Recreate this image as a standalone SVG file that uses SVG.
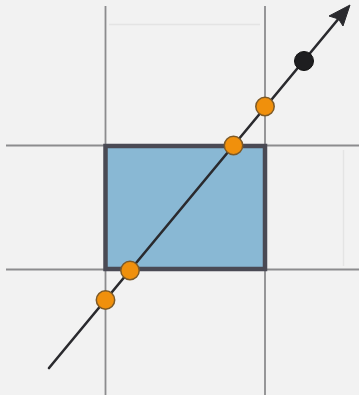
<svg xmlns="http://www.w3.org/2000/svg" width="359" height="395" viewBox="0 0 359 395">
<style>
.grid{stroke:#8c8c8e;stroke-width:1.8;fill:none}
.faint{stroke:#e4e4e4;stroke-width:1.5;fill:none}
.pt{fill:#f0900c;stroke:#7d5a28;stroke-width:1.5}
.ray{stroke:#2a2a2e;stroke-width:2.6;fill:none;stroke-linecap:round}
</style>
<rect width="359" height="395" fill="#f2f2f2"/>
<g id="grid">
<line class="grid" x1="105.5" y1="6" x2="105.5" y2="395"/>
<line class="grid" x1="265" y1="6" x2="265" y2="395"/>
<line class="grid" x1="6" y1="145.5" x2="359" y2="145.5"/>
<line class="grid" x1="6" y1="269.5" x2="359" y2="269.5"/>
<line class="faint" x1="109" y1="24.5" x2="260" y2="24.5"/>
<line class="faint" x1="343.5" y1="150" x2="343.5" y2="266"/>
</g>
<g id="box">
<rect x="105.5" y="146" width="159.5" height="123" fill="#89b8d4" stroke="#4a4a54" stroke-width="4.5"/>
</g>
<g id="connectors">
<line class="ray" x1="49" y1="368" x2="340" y2="17"/>
<polygon points="350,5 329,16 338.5,19 343,26" fill="#2a2a2e" stroke="#2a2a2e" stroke-width="1" stroke-linejoin="round"/>
</g>
<g id="p1"><circle class="pt" cx="105.5" cy="300" r="9.2"/></g>
<g id="p2"><circle class="pt" cx="130" cy="270.5" r="9.2"/></g>
<g id="p3"><circle class="pt" cx="233.5" cy="145.5" r="9.2"/></g>
<g id="p4"><circle class="pt" cx="265" cy="106.5" r="9.2"/></g>
<g id="p5"><circle cx="304" cy="61" r="9.5" fill="#1e1e20" stroke="#111" stroke-width="1"/></g>
</svg>
